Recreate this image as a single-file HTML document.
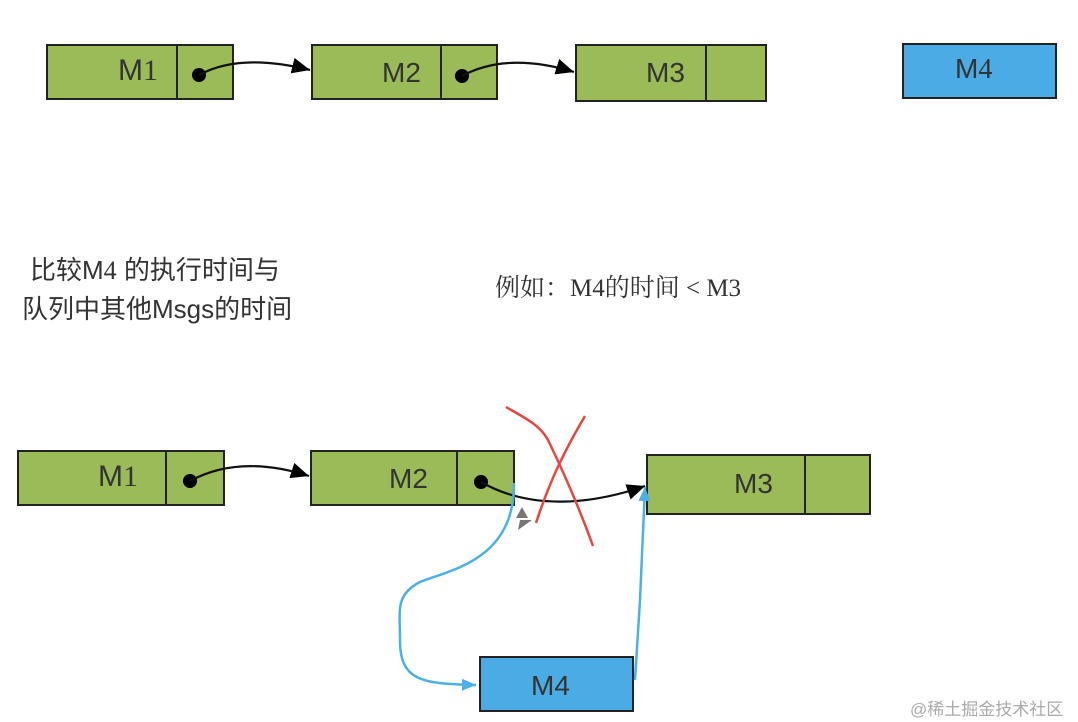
<!DOCTYPE html>
<html><head><meta charset="utf-8"><style>
body{margin:0;background:#fff;width:1078px;height:722px;overflow:hidden;position:relative;font-family:"Liberation Sans","Noto Sans CJK SC",sans-serif}
.t{position:absolute;white-space:nowrap;color:#333}
</style></head><body>
<svg width="1078" height="722" style="position:absolute;left:0;top:0">
<defs>
<marker id="a" markerWidth="10" markerHeight="10" refX="9" refY="5" orient="auto" markerUnits="userSpaceOnUse"><path d="M0,0 L10,5 L0,10 z" fill="#000" transform="scale(2) translate(-5,-2.5)"/></marker>
<marker id="ab" markerWidth="20" markerHeight="20" refX="18" refY="8" orient="auto" markerUnits="userSpaceOnUse"><path d="M0,0 L18,8 L0,16 z" fill="#000"/></marker>
<marker id="bb" markerWidth="20" markerHeight="20" refX="14" refY="6" orient="auto" markerUnits="userSpaceOnUse"><path d="M0,0 L14,6 L0,12 z" fill="#4ab0e6"/></marker>
</defs>
<g stroke="#222" stroke-width="2" fill="#9bbb59">
<rect x="47" y="45" width="186" height="54"/><line x1="177" y1="45" x2="177" y2="99"/>
<rect x="312" y="45" width="185" height="54"/><line x1="441" y1="45" x2="441" y2="99"/>
<rect x="576" y="45" width="190" height="56"/><line x1="706" y1="45" x2="706" y2="101"/>
<rect x="903" y="44" width="153" height="54" fill="#4aabe5"/>
<rect x="18" y="451" width="206" height="54"/><line x1="166" y1="451" x2="166" y2="505"/>
<rect x="311" y="451" width="203" height="54"/><line x1="457" y1="451" x2="457" y2="505"/>
<rect x="647" y="455" width="223" height="59"/><line x1="805" y1="455" x2="805" y2="514"/>
<rect x="480" y="657" width="153" height="54" fill="#4aabe5"/>
</g>
<g fill="#000">
<circle cx="199" cy="75" r="7"/><circle cx="462" cy="76" r="7"/>
<circle cx="190" cy="481" r="7"/><circle cx="481" cy="482" r="7"/>
</g>
<g stroke="#111" stroke-width="2.2" fill="none">
<path d="M199,75 C230,58 270,60 310,70" marker-end="url(#ab)"/>
<path d="M462,76 C495,58 535,60 574,72" marker-end="url(#ab)"/>
<path d="M190,481 C225,462 265,462 309,476" marker-end="url(#ab)"/>
<path d="M481,482 C530,510 590,505 645,486" marker-end="url(#ab)"/>
</g>
<path d="M518,530 L532,520 L520,520 z" fill="#777"/>
<path d="M516,518 L528,518 L522,507 z" fill="#777"/>
<g stroke="#e8453f" stroke-width="2.5" fill="none">
<path d="M506,407 C525,418 540,425 548,440 C565,475 580,510 593,546"/>
<path d="M585,416 C565,450 550,480 536,523"/>
</g>
<g stroke="#4ab0e6" stroke-width="2.5" fill="none">
<path d="M514,483 C515,560 450,570 420,582 C395,595 400,610 400,640 C400,680 420,684 476,685" marker-end="url(#bb)"/>
<path d="M635,680 L640,600 L645,487" marker-end="url(#bb)"/>
</g>
</svg>
<div class="t" style="left:118px;top:54px;font-size:30px">M<span style="font-family:'Liberation Serif',serif">1</span></div>
<div class="t" style="left:382px;top:57px;font-size:28px">M2</div>
<div class="t" style="left:646px;top:57px;font-size:28px">M3</div>
<div class="t" style="left:955px;top:53px;font-size:28px">M<span style="font-family:'Liberation Serif',serif">4</span></div>
<div class="t" style="left:98px;top:460px;font-size:30px">M<span style="font-family:'Liberation Serif',serif">1</span></div>
<div class="t" style="left:389px;top:463px;font-size:28px">M2</div>
<div class="t" style="left:734px;top:468px;font-size:28px">M3</div>
<div class="t" style="left:531px;top:670px;font-size:28px">M4</div>
<div class="t" style="left:30px;top:250px;font-size:26px">比较M<span style="font-family:'Liberation Serif',serif">4</span> 的执行时间与</div>
<div class="t" style="left:22px;top:289px;font-size:26px">队列中其他Msgs的时间</div>
<div class="t" style="left:495px;top:268px;font-size:25px;font-family:'Liberation Serif','Noto Serif CJK SC',serif">例如：M4的时间 &lt; M3</div>
<div class="t" style="left:910px;top:695px;font-size:17px;color:#aaa">@稀土掘金技术社区</div>
</body></html>
